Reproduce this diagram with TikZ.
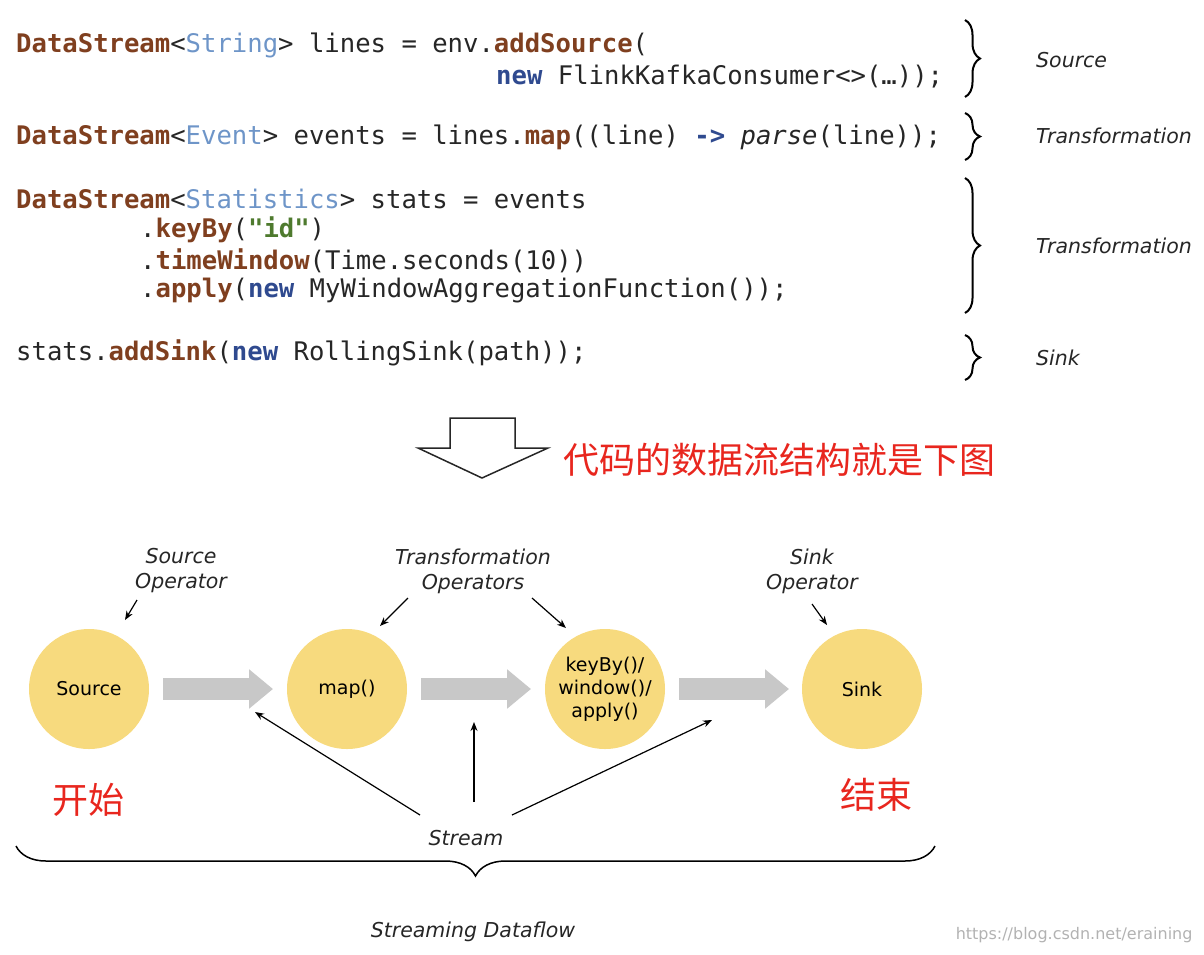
\documentclass[tikz,border=0pt]{standalone}
\usepackage{fontspec}
\setmainfont{DejaVu Sans}
\newfontfamily\cmono{DejaVu Sans Mono}
\newfontfamily\cjk{Noto Sans CJK SC}
\usetikzlibrary{decorations.pathreplacing,arrows.meta}
\definecolor{kbrown}{HTML}{7F3F1F}
\definecolor{ktype}{HTML}{6E95C8}
\definecolor{knew}{HTML}{2F4A8F}
\definecolor{kgreen}{HTML}{4E7A2E}
\definecolor{opfill}{HTML}{F7DA7E}
\definecolor{garrow}{HTML}{C8C8C8}
\definecolor{cred}{HTML}{E8261E}
\newcommand{\kwd}[1]{\textcolor{kbrown}{\bfseries #1}}
\newcommand{\typ}[1]{\textcolor{ktype}{#1}}
\newcommand{\nwk}[1]{\textcolor{knew}{\bfseries #1}}
\newcommand{\strg}[1]{\textcolor{kgreen}{\bfseries #1}}
\tikzset{
 code/.style={anchor=west,inner sep=0pt,font=\cmono\fontsize{25.6}{26}\selectfont,text=black!85},
 lbl/.style={font=\fontsize{20.5}{25}\selectfont\itshape,text=black!85,align=center,inner sep=0pt},
 op/.style={circle,fill=opfill,minimum size=120pt,inner sep=0pt,font=\fontsize{19}{23}\selectfont,align=center},
 flow/.style={garrow,line width=22pt,-{Triangle[length=24pt,width=38pt]}},
 thin/.style={-{Stealth[length=9pt,width=7pt]},line width=1.2pt,black},
 br/.style={decorate,decoration={brace,amplitude=15pt},line width=2pt},
 cn/.style={text=cred,inner sep=0pt,font=\cjk\fontsize{36}{40}\selectfont}
}
\begin{document}
\begin{tikzpicture}[x=1pt,y=-1pt]
\useasboundingbox (0,0) rectangle (1204,954);
\node[code] (c1) at (16,45) {\kwd{DataStream}<\typ{String}> lines = env.\kwd{addSource}(};
\node[code] (c2) at (496,76) {\nwk{new} FlinkKafkaConsumer<>(…));};
\node[code] (c3) at (16,137) {\kwd{DataStream}<\typ{Event}> events = lines.\kwd{map}((line) \nwk{->} \textit{parse}(line));};
\node[code] (c4) at (16,199) {\kwd{DataStream}<\typ{Statistics}> stats = events};
\node[code] (c5) at (140,230) {.\kwd{keyBy}(\strg{"id"})};
\node[code] (c6) at (140,261) {.\kwd{timeWindow}(Time.seconds(10))};
\node[code] (c7) at (140,291) {.\kwd{apply}(\nwk{new} MyWindowAggregationFunction());};
\node[code] (c8) at (16,353) {stats.\kwd{addSink}(\nwk{new} RollingSink(path));};

\draw[br] (965,20) -- (965,97);
\draw[br] (965,113) -- (965,160);
\draw[br] (965,178) -- (965,313);
\draw[br] (965,335) -- (965,380);
\node[lbl,anchor=west] (l1) at (1036,60) {Source};
\node[lbl,anchor=west] (l2) at (1036,136) {Transformation};
\node[lbl,anchor=west] (l3) at (1036,246) {Transformation};
\node[lbl,anchor=west] (l4) at (1036,358) {Sink};

\draw[line width=1.5pt,black!85,fill=white] (450,418) -- (515,418) -- (515,448) -- (548,448) -- (482,478) -- (418,448) -- (450,448) -- cycle;
\node[cn,anchor=west] (title) at (563,460) {代码的数据流结构就是下图};

\node[op] (src) at (89,689) {Source};
\node[op] (map) at (347,689) {map()};
\node[op] (kb) at (605,689) {keyBy()/\\window()/\\apply()};
\node[op] (sink) at (862,689) {Sink};
\draw[flow] (163,689) -- (273,689);
\draw[flow] (421,689) -- (531,689);
\draw[flow] (679,689) -- (789,689);

\node[lbl] (so) at (181,571) {Source\\Operator};
\node[lbl] (to) at (473,571) {Transformation\\Operators};
\node[lbl] (sk) at (812,571) {Sink\\Operator};
\coordinate (a1) at (125,620);
\coordinate (a2) at (380,626);
\coordinate (a3) at (566,628);
\coordinate (a4) at (827,625);
\draw[thin] (137,600) -- (a1);
\draw[thin] (408,598) -- (a2);
\draw[thin] (532,598) -- (a3);
\draw[thin] (812,604) -- (a4);

\node[lbl] (st) at (466,838) {Stream};
\coordinate (s1) at (255,712);
\coordinate (s2) at (474,722);
\coordinate (s3) at (712,720);
\draw[thin] (420,815) -- (s1);
\draw[thin] (474,802) -- (s2);
\draw[thin] (512,815) -- (s3);

\node[cn] (kai) at (88,800) {开始};
\node[cn] (jie) at (876,795) {结束};

\draw[br,line width=1.5pt,decoration={brace,amplitude=30pt,mirror}] (16,846) -- (935,846);
\node[lbl] (sd) at (473,932) {Streaming Dataflow};
\node[font=\fontsize{16}{18}\selectfont,text=black!30,anchor=east] (wm) at (1196,935) {https://blog.csdn.net/eraining};
\end{tikzpicture}
\end{document}
